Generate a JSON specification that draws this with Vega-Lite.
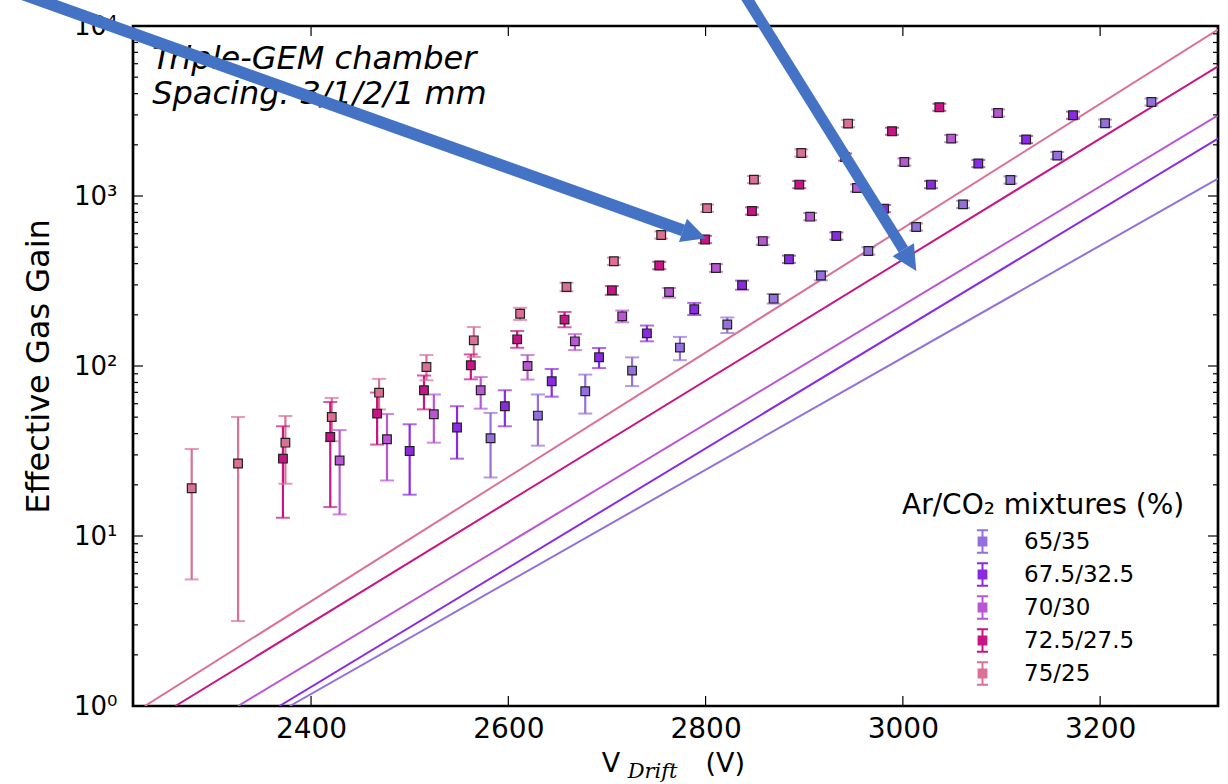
{
  "$schema": "https://vega.github.io/schema/vega-lite/v6.json",
  "width": 1085,
  "height": 680,
  "autosize": {"type": "none"},
  "padding": {"left": 133, "top": 26, "right": 10, "bottom": 78},
  "background": "white",
  "config": {
    "view": {"stroke": "black", "strokeWidth": 2.7},
    "font": "DejaVu Sans",
    "axis": {"grid": false, "ticks": false, "domain": false, "labelColor": "black", "titleColor": "black", "labelFont": "DejaVu Sans", "titleFont": "DejaVu Sans", "titleFontWeight": "normal"}
  },
  "datasets": {
    "fits": [
      {"mix": "75/25", "v": 2231.5, "g": 1},
      {"mix": "75/25", "v": 3319.5, "g": 9526},
      {"mix": "72.5/27.5", "v": 2262.5, "g": 1},
      {"mix": "72.5/27.5", "v": 3319.5, "g": 5794},
      {"mix": "70/30", "v": 2326, "g": 1},
      {"mix": "70/30", "v": 3319.5, "g": 2984},
      {"mix": "67.5/32.5", "v": 2368, "g": 1},
      {"mix": "67.5/32.5", "v": 3319.5, "g": 2176},
      {"mix": "65/35", "v": 2378.5, "g": 1},
      {"mix": "65/35", "v": 3319.5, "g": 1266}
    ],
    "pts": [
      {"mix": "75/25", "v": 2279, "g": 19.1, "lo": 5.55, "hi": 32.5},
      {"mix": "75/25", "v": 2326, "g": 26.7, "lo": 3.16, "hi": 50.1},
      {"mix": "75/25", "v": 2374, "g": 35.4, "lo": 20.3, "hi": 50.8},
      {"mix": "75/25", "v": 2421, "g": 50.1, "lo": 36.1, "hi": 64.9},
      {"mix": "75/25", "v": 2469, "g": 69.7, "lo": 55.5, "hi": 84},
      {"mix": "75/25", "v": 2517, "g": 98.6, "lo": 82.4, "hi": 116},
      {"mix": "75/25", "v": 2565, "g": 141.6, "lo": 113, "hi": 169.5},
      {"mix": "75/25", "v": 2612, "g": 203, "lo": 186.6, "hi": 220},
      {"mix": "75/25", "v": 2659, "g": 291.6, "lo": 275, "hi": 309},
      {"mix": "75/25", "v": 2707, "g": 413, "lo": 393, "hi": 434},
      {"mix": "75/25", "v": 2755, "g": 590, "lo": 562, "hi": 620},
      {"mix": "75/25", "v": 2801.5, "g": 848, "lo": 808, "hi": 890},
      {"mix": "75/25", "v": 2849, "g": 1248, "lo": 1190, "hi": 1310},
      {"mix": "75/25", "v": 2897, "g": 1791, "lo": 1706, "hi": 1880},
      {"mix": "75/25", "v": 2944.5, "g": 2666, "lo": 2540, "hi": 2800},
      {"mix": "72.5/27.5", "v": 2371.5, "g": 28.5, "lo": 12.8, "hi": 44.2},
      {"mix": "72.5/27.5", "v": 2419.5, "g": 38.2, "lo": 14.8, "hi": 61.4},
      {"mix": "72.5/27.5", "v": 2467, "g": 52.5, "lo": 34.5, "hi": 69.8},
      {"mix": "72.5/27.5", "v": 2514.5, "g": 72, "lo": 55.6, "hi": 87.9},
      {"mix": "72.5/27.5", "v": 2562, "g": 101, "lo": 83.5, "hi": 117},
      {"mix": "72.5/27.5", "v": 2609, "g": 143.5, "lo": 128, "hi": 160.7},
      {"mix": "72.5/27.5", "v": 2657, "g": 187.5, "lo": 169, "hi": 208},
      {"mix": "72.5/27.5", "v": 2705, "g": 278.6, "lo": 262, "hi": 295},
      {"mix": "72.5/27.5", "v": 2753, "g": 390, "lo": 371, "hi": 410},
      {"mix": "72.5/27.5", "v": 2799.5, "g": 555, "lo": 528, "hi": 583},
      {"mix": "72.5/27.5", "v": 2847, "g": 816, "lo": 777, "hi": 857},
      {"mix": "72.5/27.5", "v": 2895, "g": 1167, "lo": 1112, "hi": 1225},
      {"mix": "72.5/27.5", "v": 2941.5, "g": 1694, "lo": 1614, "hi": 1778},
      {"mix": "72.5/27.5", "v": 2989, "g": 2403, "lo": 2290, "hi": 2522},
      {"mix": "72.5/27.5", "v": 3037, "g": 3326, "lo": 3170, "hi": 3490},
      {"mix": "70/30", "v": 2429, "g": 27.8, "lo": 13.4, "hi": 42},
      {"mix": "70/30", "v": 2477, "g": 37.1, "lo": 21.2, "hi": 52.2},
      {"mix": "70/30", "v": 2524.5, "g": 52, "lo": 35.4, "hi": 68},
      {"mix": "70/30", "v": 2572, "g": 72, "lo": 56.1, "hi": 86.1},
      {"mix": "70/30", "v": 2619.5, "g": 100, "lo": 83.2, "hi": 116},
      {"mix": "70/30", "v": 2667.5, "g": 139.7, "lo": 124, "hi": 154},
      {"mix": "70/30", "v": 2715.5, "g": 196, "lo": 180.7, "hi": 212},
      {"mix": "70/30", "v": 2763, "g": 272, "lo": 252.4, "hi": 287.6},
      {"mix": "70/30", "v": 2810.5, "g": 377, "lo": 358, "hi": 397},
      {"mix": "70/30", "v": 2858, "g": 543, "lo": 516, "hi": 571},
      {"mix": "70/30", "v": 2906, "g": 756, "lo": 720, "hi": 794},
      {"mix": "70/30", "v": 2953.5, "g": 1114, "lo": 1061, "hi": 1170},
      {"mix": "70/30", "v": 3001.5, "g": 1585, "lo": 1510, "hi": 1664},
      {"mix": "70/30", "v": 3049, "g": 2177, "lo": 2074, "hi": 2285},
      {"mix": "70/30", "v": 3096.5, "g": 3076, "lo": 2930, "hi": 3230},
      {"mix": "67.5/32.5", "v": 2500, "g": 31.6, "lo": 17.5, "hi": 45.4},
      {"mix": "67.5/32.5", "v": 2548, "g": 43.5, "lo": 28.5, "hi": 58},
      {"mix": "67.5/32.5", "v": 2596.5, "g": 58, "lo": 44.2, "hi": 72},
      {"mix": "67.5/32.5", "v": 2644, "g": 81.3, "lo": 66, "hi": 96},
      {"mix": "67.5/32.5", "v": 2692, "g": 112.5, "lo": 97.2, "hi": 127.6},
      {"mix": "67.5/32.5", "v": 2740.5, "g": 155.7, "lo": 139.7, "hi": 173},
      {"mix": "67.5/32.5", "v": 2788.5, "g": 215.8, "lo": 199.5, "hi": 235},
      {"mix": "67.5/32.5", "v": 2837, "g": 299, "lo": 281, "hi": 318},
      {"mix": "67.5/32.5", "v": 2884.5, "g": 424.5, "lo": 404, "hi": 446},
      {"mix": "67.5/32.5", "v": 2932.5, "g": 582, "lo": 554, "hi": 611},
      {"mix": "67.5/32.5", "v": 2981, "g": 843, "lo": 803, "hi": 885},
      {"mix": "67.5/32.5", "v": 3028.5, "g": 1167, "lo": 1112, "hi": 1225},
      {"mix": "67.5/32.5", "v": 3076.5, "g": 1552, "lo": 1478, "hi": 1630},
      {"mix": "67.5/32.5", "v": 3125, "g": 2148, "lo": 2046, "hi": 2255},
      {"mix": "67.5/32.5", "v": 3172.5, "g": 2985, "lo": 2843, "hi": 3134},
      {"mix": "65/35", "v": 2582, "g": 37.6, "lo": 22.1, "hi": 53},
      {"mix": "65/35", "v": 2630, "g": 51.1, "lo": 34, "hi": 68},
      {"mix": "65/35", "v": 2678, "g": 71, "lo": 52.5, "hi": 89},
      {"mix": "65/35", "v": 2725.5, "g": 94, "lo": 76.2, "hi": 112.4},
      {"mix": "65/35", "v": 2774, "g": 128.3, "lo": 108.2, "hi": 148.3},
      {"mix": "65/35", "v": 2822, "g": 175.4, "lo": 156.3, "hi": 193},
      {"mix": "65/35", "v": 2869, "g": 249, "lo": 232.8, "hi": 265.3},
      {"mix": "65/35", "v": 2917, "g": 340.5, "lo": 319, "hi": 360.5},
      {"mix": "65/35", "v": 2965, "g": 475, "lo": 452, "hi": 499},
      {"mix": "65/35", "v": 3013.5, "g": 657, "lo": 626, "hi": 690},
      {"mix": "65/35", "v": 3061, "g": 893, "lo": 851, "hi": 938},
      {"mix": "65/35", "v": 3109, "g": 1242, "lo": 1183, "hi": 1304},
      {"mix": "65/35", "v": 3156.5, "g": 1728, "lo": 1646, "hi": 1814},
      {"mix": "65/35", "v": 3205, "g": 2680, "lo": 2553, "hi": 2814},
      {"mix": "65/35", "v": 3252, "g": 3573, "lo": 3404, "hi": 3752}
    ],
    "ymaj": [{"t": 1}, {"t": 10}, {"t": 100}, {"t": 1000}, {"t": 10000}],
    "ymin": [
      {"t": 2}, {"t": 3}, {"t": 4}, {"t": 5}, {"t": 6}, {"t": 7}, {"t": 8}, {"t": 9},
      {"t": 20}, {"t": 30}, {"t": 40}, {"t": 50}, {"t": 60}, {"t": 70}, {"t": 80}, {"t": 90},
      {"t": 200}, {"t": 300}, {"t": 400}, {"t": 500}, {"t": 600}, {"t": 700}, {"t": 800}, {"t": 900},
      {"t": 2000}, {"t": 3000}, {"t": 4000}, {"t": 5000}, {"t": 6000}, {"t": 7000}, {"t": 8000}, {"t": 9000}
    ],
    "xmaj": [{"t": 2400}, {"t": 2600}, {"t": 2800}, {"t": 3000}, {"t": 3200}],
    "one": [{}]
  },
  "layer": [
    {
      "data": {"name": "fits"},
      "mark": {"type": "line", "strokeWidth": 2, "clip": true},
      "encoding": {
        "x": {"field": "v", "type": "quantitative",
              "scale": {"domain": [2219.5, 3319.5], "nice": false, "zero": false},
              "axis": {"title": null, "values": [2400, 2600, 2800, 3000, 3200], "format": "d", "labelFontSize": 28, "labelPadding": 9}},
        "y": {"field": "g", "type": "quantitative",
              "scale": {"type": "log", "domain": [1, 10000], "nice": false},
              "axis": {"title": "Effective Gas Gain", "titleFontSize": 32, "titlePadding": 18,
                       "values": [1, 10, 100, 1000, 10000],
                       "labelExpr": "'10' + ['⁰','¹','²','³','⁴'][round(log(datum.value) / LN10)]",
                       "labelFontSize": 26, "labelPadding": 16}},
        "color": {"field": "mix", "type": "nominal",
                  "scale": {"domain": ["65/35", "67.5/32.5", "70/30", "72.5/27.5", "75/25"],
                            "range": ["#9370DB", "#8A2BE2", "#BA55D3", "#C71585", "#DB7093"]},
                  "legend": {"title": "Ar/CO₂ mixtures (%)", "orient": "none", "legendX": 769, "legendY": 466,
                             "padding": 0, "titleFontSize": 28, "titleFontWeight": "normal", "titleColor": "black", "titleFont": "DejaVu Sans",
                             "titlePadding": 9, "titleLimit": 500,
                             "labelFontSize": 23, "labelColor": "black", "labelFont": "DejaVu Sans",
                             "symbolType": "M-0.5,-1H0.5M0,-1V1M-0.5,1H0.5M-0.35,-0.35H0.35V0.35H-0.35Z",
                             "symbolSize": 500, "symbolStrokeWidth": 2, "symbolOffset": 68, "labelOffset": 29, "rowPadding": 2,
                             "encode": {"symbols": {"update": {"fill": {"scale": "color", "field": "value"}, "stroke": {"scale": "color", "field": "value"}, "fillOpacity": {"value": 1}, "strokeOpacity": {"value": 1}, "opacity": {"value": 1}}}}}}
      }
    },
    {
      "data": {"name": "pts"},
      "mark": {"type": "rule", "strokeWidth": 2.2},
      "encoding": {
        "x": {"field": "v", "type": "quantitative"},
        "y": {"field": "lo", "type": "quantitative"},
        "y2": {"field": "hi"},
        "color": {"field": "mix", "type": "nominal"}
      }
    },
    {
      "data": {"name": "pts"},
      "mark": {"type": "tick", "orient": "horizontal", "size": 14, "thickness": 2},
      "encoding": {
        "x": {"field": "v", "type": "quantitative"},
        "y": {"field": "lo", "type": "quantitative"},
        "color": {"field": "mix", "type": "nominal"}
      }
    },
    {
      "data": {"name": "pts"},
      "mark": {"type": "tick", "orient": "horizontal", "size": 14, "thickness": 2},
      "encoding": {
        "x": {"field": "v", "type": "quantitative"},
        "y": {"field": "hi", "type": "quantitative"},
        "color": {"field": "mix", "type": "nominal"}
      }
    },
    {
      "data": {"name": "pts"},
      "mark": {"type": "point", "shape": "square", "filled": true, "size": 75, "stroke": "#222222", "strokeWidth": 1.2, "opacity": 1},
      "encoding": {
        "x": {"field": "v", "type": "quantitative"},
        "y": {"field": "g", "type": "quantitative"},
        "color": {"field": "mix", "type": "nominal"}
      }
    },
    {
      "data": {"name": "ymaj"},
      "mark": {"type": "rule", "color": "black", "strokeWidth": 1.2},
      "encoding": {
        "y": {"field": "t", "type": "quantitative"},
        "x": {"datum": 2219.5, "type": "quantitative"},
        "x2": {"datum": 2229.6}
      }
    },
    {
      "data": {"name": "ymaj"},
      "mark": {"type": "rule", "color": "black", "strokeWidth": 1.2},
      "encoding": {
        "y": {"field": "t", "type": "quantitative"},
        "x": {"datum": 3309.4, "type": "quantitative"},
        "x2": {"datum": 3319.5}
      }
    },
    {
      "data": {"name": "ymin"},
      "mark": {"type": "rule", "color": "black", "strokeWidth": 1.2},
      "encoding": {
        "y": {"field": "t", "type": "quantitative"},
        "x": {"datum": 2219.5, "type": "quantitative"},
        "x2": {"datum": 2224.6}
      }
    },
    {
      "data": {"name": "ymin"},
      "mark": {"type": "rule", "color": "black", "strokeWidth": 1.2},
      "encoding": {
        "y": {"field": "t", "type": "quantitative"},
        "x": {"datum": 3314.4, "type": "quantitative"},
        "x2": {"datum": 3319.5}
      }
    },
    {
      "data": {"name": "xmaj"},
      "mark": {"type": "rule", "color": "black", "strokeWidth": 1.2},
      "encoding": {
        "x": {"field": "t", "type": "quantitative"},
        "y": {"datum": 10000, "type": "quantitative"},
        "y2": {"datum": 8734}
      }
    },
    {
      "data": {"name": "xmaj"},
      "mark": {"type": "rule", "color": "black", "strokeWidth": 1.2},
      "encoding": {
        "x": {"field": "t", "type": "quantitative"},
        "y": {"datum": 1, "type": "quantitative"},
        "y2": {"datum": 1.145}
      }
    },
    {
      "data": {"name": "one"},
      "mark": {"type": "text", "align": "left", "baseline": "alphabetic", "fontSize": 32, "fontStyle": "italic", "font": "DejaVu Sans", "lineHeight": 35, "color": "black",
               "text": ["Triple-GEM chamber", "Spacing: 3/1/2/1 mm"]},
      "encoding": {
        "x": {"datum": 2239, "type": "quantitative"},
        "y": {"datum": 5617, "type": "quantitative"}
      }
    },
    {
      "data": {"name": "one"},
      "mark": {"type": "text", "align": "left", "baseline": "alphabetic", "fontSize": 27, "font": "DejaVu Sans", "color": "black", "text": "V", "clip": false},
      "encoding": {
        "x": {"datum": 2694.8, "type": "quantitative"},
        "y": {"datum": 0.409, "type": "quantitative"}
      }
    },
    {
      "data": {"name": "one"},
      "mark": {"type": "text", "align": "left", "baseline": "alphabetic", "fontSize": 21, "fontStyle": "italic", "font": "DejaVu Serif", "color": "black", "text": "Drift", "clip": false},
      "encoding": {
        "x": {"datum": 2721, "type": "quantitative"},
        "y": {"datum": 0.3756, "type": "quantitative"}
      }
    },
    {
      "data": {"name": "one"},
      "mark": {"type": "text", "align": "left", "baseline": "alphabetic", "fontSize": 27, "font": "DejaVu Sans", "color": "black", "text": "(V)", "clip": false},
      "encoding": {
        "x": {"datum": 2800, "type": "quantitative"},
        "y": {"datum": 0.409, "type": "quantitative"}
      }
    },
    {
      "data": {"name": "one"},
      "mark": {"type": "rule", "color": "#4472C4", "strokeWidth": 12, "strokeCap": "butt", "clip": false},
      "encoding": {
        "x": {"datum": 2064.4, "type": "quantitative"},
        "y": {"datum": 18930, "type": "quantitative"},
        "x2": {"datum": 2777.2},
        "y2": {"datum": 628}
      }
    },
    {
      "data": {"name": "one"},
      "mark": {"type": "point", "shape": "M1,0L-1,-1L-1,1Z", "filled": true, "size": 600, "angle": 19, "color": "#4472C4", "opacity": 1, "strokeWidth": 0, "clip": false},
      "encoding": {
        "x": {"datum": 2788.8, "type": "quantitative"},
        "y": {"datum": 594.8, "type": "quantitative"}
      }
    },
    {
      "data": {"name": "one"},
      "mark": {"type": "rule", "color": "#4472C4", "strokeWidth": 11, "strokeCap": "butt", "clip": false},
      "encoding": {
        "x": {"datum": 2830.4, "type": "quantitative"},
        "y": {"datum": 18580, "type": "quantitative"},
        "x2": {"datum": 3000.6},
        "y2": {"datum": 483.9}
      }
    },
    {
      "data": {"name": "one"},
      "mark": {"type": "point", "shape": "M1,0L-1,-1L-1,1Z", "filled": true, "size": 620, "angle": 58.5, "color": "#4472C4", "opacity": 1, "strokeWidth": 0, "clip": false},
      "encoding": {
        "x": {"datum": 3007, "type": "quantitative"},
        "y": {"datum": 418.6, "type": "quantitative"}
      }
    }
  ]
}
